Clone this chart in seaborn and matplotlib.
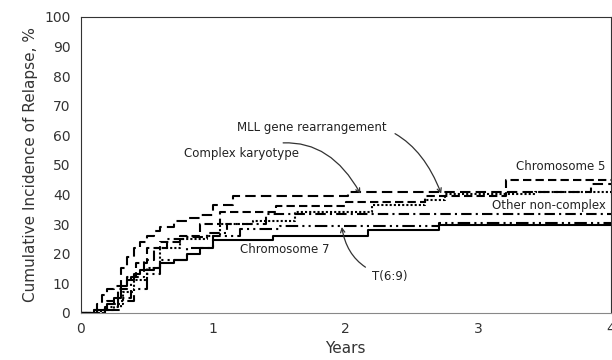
import matplotlib
matplotlib.use("Agg")
import matplotlib.pyplot as plt
import numpy as np
import pandas as pd
import seaborn as sns

# step curves (years, cumulative incidence %)
complex_t = [0, 0.08, 0.12, 0.16, 0.2, 0.25, 0.3, 0.35, 0.4, 0.45, 0.5, 0.55, 0.6, 0.7, 0.8, 0.9, 1.0, 1.15, 2.02, 3.85, 4.0]
complex_v = [0, 1, 3, 6, 8, 9, 15, 19, 22, 24, 26, 27.5, 29, 31, 32, 33, 36.5, 39.5, 41, 43.5, 43.5]

chr5_t = [0, 0.12, 0.2, 0.28, 0.35, 0.42, 0.5, 0.6, 0.75, 0.9, 1.05, 1.47, 2.0, 2.6, 3.21, 4.0]
chr5_v = [0, 1, 4, 8, 12, 17, 22, 24, 26, 30, 34, 36, 37.5, 39.5, 45, 45]

mll_t = [0, 0.15, 0.25, 0.32, 0.4, 0.5, 0.6, 0.75, 0.95, 1.05, 1.3, 1.62, 2.2, 2.6, 2.75, 3.43, 4.0]
mll_v = [0, 1, 3, 7, 11, 15, 22, 25, 26, 30, 31, 34, 36.5, 38, 40, 41, 41]

other_t = [0, 0.18, 0.28, 0.38, 0.48, 0.55, 0.65, 0.8, 0.95, 1.1, 1.4, 4.0]
other_v = [0, 2, 5, 12, 18, 22, 25, 25.5, 27, 30, 33.5, 33.5]

t69_t = [0, 0.2, 0.3, 0.4, 0.5, 0.6, 0.8, 1.0, 1.2, 1.5, 2.7, 4.0]
t69_v = [0, 1, 4, 8, 13, 18, 22, 26, 28.5, 29.5, 30.5, 30.5]

chr7_t = [0, 0.1, 0.2, 0.25, 0.3, 0.35, 0.4, 0.45, 0.55, 0.6, 0.7, 0.8, 0.9, 1.0, 1.45, 2.17, 2.7, 4.0]
chr7_v = [0, 1, 3, 5, 9, 11, 13, 14.5, 15, 17, 18, 20, 22, 24.7, 26, 28, 29.7, 29.7]

series = {
    "Complex karyotype": (complex_t, complex_v),
    "Chromosome 5": (chr5_t, chr5_v),
    "MLL gene rearrangement": (mll_t, mll_v),
    "Other non-complex": (other_t, other_v),
    "T(6:9)": (t69_t, t69_v),
    "Chromosome 7": (chr7_t, chr7_v),
}

rows = []
for name, (t, v) in series.items():
    for x, y in zip(t, v):
        rows.append({"Years": x, "CIR": y, "group": name})
df = pd.DataFrame(rows)

dashes = {
    "Complex karyotype": (5, 2.5),
    "Chromosome 5": (4, 2),
    "MLL gene rearrangement": (1, 1),
    "Other non-complex": (5, 2, 1, 2),
    "T(6:9)": (6, 2, 1, 2, 1, 2),
    "Chromosome 7": "",
}

sns.set_style("white")
plt.rcParams["font.family"] = ["DejaVu Sans"]

fig = plt.figure(figsize=(6.12, 3.6), dpi=100)
ax = fig.add_axes([0.132, 0.131, 0.866, 0.822])

sns.lineplot(data=df, x="Years", y="CIR", hue="group", style="group",
             palette=["black"] * 6, dashes=dashes, estimator=None,
             drawstyle="steps-post", linewidth=1.5, legend=False, ax=ax)

ax.set_xlim(0, 4)
ax.set_ylim(0, 100)
ax.set_xticks([0, 1, 2, 3, 4])
ax.set_yticks(range(0, 101, 10))
ax.set_xlabel("Years", fontsize=11, color="#333333")
ax.set_ylabel("Cumulative Incidence of Relapse, %", fontsize=11, color="#333333")
ax.tick_params(axis="both", labelsize=10, colors="#333333", length=4)
ax.tick_params(axis="x", direction="inout", length=6)
for side in ["top", "right", "left"]:
    ax.spines[side].set_color("#333333")
ax.spines["bottom"].set_color("#888888")

fs = 8.5
arrow = "->,head_length=0.35,head_width=0.18"
ax.annotate("MLL gene rearrangement", xy=(2.72, 40.3), xytext=(2.31, 62.5),
            fontsize=fs, ha="right", va="center", color="#222222",
            arrowprops=dict(arrowstyle=arrow, color="#333333", lw=0.9,
                            connectionstyle="arc3,rad=-0.45", shrinkA=4, shrinkB=0))
ax.annotate("Complex karyotype", xy=(2.11, 40.3), xytext=(1.65, 54),
            fontsize=fs, ha="right", va="center", color="#222222",
            arrowprops=dict(arrowstyle=arrow, color="#333333", lw=0.9,
                            connectionstyle="arc3,rad=-0.45", shrinkA=4, shrinkB=0))
ax.annotate("T(6:9)", xy=(1.97, 29.0), xytext=(2.2, 12.2),
            fontsize=fs, ha="left", va="center", color="#222222",
            arrowprops=dict(arrowstyle=arrow, color="#333333", lw=0.9,
                            connectionstyle="arc3,rad=-0.35", shrinkA=3, shrinkB=0))
ax.text(3.96, 49.3, "Chromosome 5", fontsize=fs, ha="right", va="center", color="#222222")
ax.text(3.96, 36.3, "Other non-complex", fontsize=fs, ha="right", va="center", color="#222222")
ax.text(1.2, 21.3, "Chromosome 7", fontsize=fs, ha="left", va="center", color="#222222")

fig.savefig("out.png", dpi=100)
